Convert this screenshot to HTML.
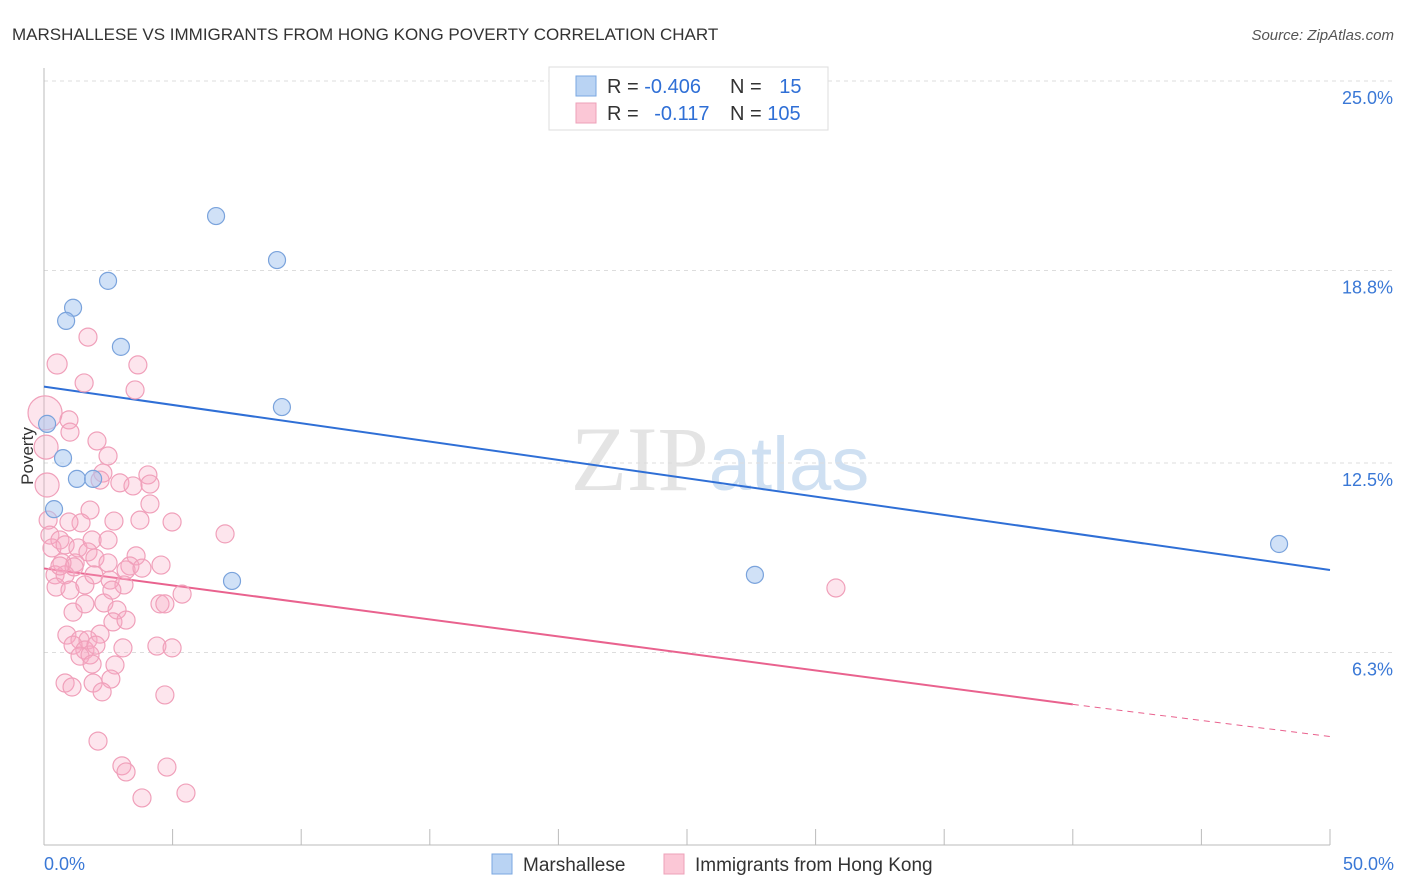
<!DOCTYPE html>
<html><head><meta charset="utf-8">
<style>
body{margin:0;background:#fff;font-family:"Liberation Sans",sans-serif;}
svg{display:block}
</style></head>
<body>
<svg id="chart" width="1406" height="892" xmlns="http://www.w3.org/2000/svg">
<text x="12" y="40" font-size="17" fill="#333">MARSHALLESE VS IMMIGRANTS FROM HONG KONG POVERTY CORRELATION CHART</text>
<text x="1394" y="40" font-size="15" fill="#555" text-anchor="end" font-style="italic">Source: ZipAtlas.com</text>
<text x="720" y="490" font-size="92" text-anchor="middle" fill="#e4e4e4" font-family="Liberation Serif, serif">ZIP<tspan fill="#cfe0f2" font-family="Liberation Sans, sans-serif" font-size="76">atlas</tspan></text>
<g id="grid"></g>
<g id="axes"></g>
<g id="lines"></g>
<g id="points"></g>
<text transform="translate(33,456) rotate(-90)" font-size="17" fill="#333" text-anchor="middle">Poverty</text>
<g>
<rect x="549" y="67" width="279" height="63" fill="#fff" stroke="#ddd"/>
<rect x="576" y="76" width="20" height="20" fill="#b9d3f3" stroke="#7aa7e0"/>
<rect x="576" y="103" width="20" height="20" fill="#fbc7d6" stroke="#eea0b8"/>
<text x="607" y="93" font-size="20" fill="#333">R = <tspan fill="#2f6fd6">-0.406</tspan></text>
<text x="730" y="93" font-size="20" fill="#333">N = <tspan fill="#2f6fd6" dx="12">15</tspan></text>
<text x="607" y="120" font-size="20" fill="#333">R = <tspan fill="#2f6fd6" dx="10">-0.117</tspan></text>
<text x="730" y="120" font-size="20" fill="#333">N = <tspan fill="#2f6fd6">105</tspan></text>
</g>
<g>
<rect x="492" y="854" width="20" height="20" fill="#b9d3f3" stroke="#7aa7e0"/>
<text x="523" y="871" font-size="19" fill="#333">Marshallese</text>
<rect x="664" y="854" width="20" height="20" fill="#fbc7d6" stroke="#eea0b8"/>
<text x="695" y="871" font-size="19" fill="#333">Immigrants from Hong Kong</text>
</g>
</svg>
<script>
const yTicks=[25,18.8,12.5,6.3];
const yTickLabels=["25.0%","18.8%","12.5%","6.3%"];
const xTickLabels=["0.0%","50.0%"];
const blueX=[6.69,9.06,2.49,1.13,0.86,2.99,9.25,0.12,0.74,1.28,1.91,0.39,7.31,27.64,48.02];
const blueY=[20.58,19.14,18.46,17.58,17.15,16.30,14.33,13.78,12.66,11.98,11.98,10.99,8.64,8.84,9.85];
const pinkX=[0.51,1.71,1.56,3.65,3.54,0.97,1.01,2.06,2.49,2.29,2.95,2.18,4.04,3.46,4.12,4.12,4.98,7.04,2.72,1.79,1.44,0.97,0.16,0.23,0.62,0.31,0.82,1.32,1.87,2.49,1.71,1.21,1.98,0.70,0.43,0.82,0.47,1.01,2.49,3.58,3.34,3.19,4.55,2.57,3.11,1.59,1.13,1.59,2.33,2.84,2.68,3.19,4.51,4.70,5.37,0.89,1.40,1.71,2.18,1.13,1.59,1.40,1.79,2.02,3.07,2.76,4.39,4.98,0.82,1.09,1.91,2.60,2.26,4.70,2.10,3.03,3.19,3.81,4.78,5.52,30.79,0.04,0.08,0.12,1.17,0.62,2.64,3.73,1.87,1.94,3.81];
const pinkY=[15.74,16.62,15.12,15.71,14.89,13.91,13.51,13.22,12.73,12.17,11.85,11.94,12.11,11.75,11.81,11.16,10.57,10.18,10.60,10.96,10.54,10.57,10.63,10.14,9.98,9.72,9.82,9.72,9.98,9.98,9.59,9.23,9.39,9.23,8.84,8.84,8.44,8.34,9.23,9.46,9.13,9.00,9.16,8.67,8.51,8.51,7.62,7.89,7.92,7.69,7.30,7.36,7.89,7.89,8.21,6.87,6.71,6.71,6.90,6.54,6.38,6.18,6.22,6.54,6.45,5.89,6.51,6.45,5.30,5.17,5.30,5.43,5.01,4.91,3.40,2.59,2.39,1.54,2.55,1.70,8.41,14.14,13.02,11.78,9.10,9.13,8.34,10.63,5.92,8.84,9.06];
const blueTrend=[[0,15.0],[50,9.0]];
const pinkTrend=[[0,9.05],[40,4.6]];
const pinkTrendExt=[[40,4.6],[50,3.55]];
const NS="http://www.w3.org/2000/svg";
const X=v=>44+v*25.72, Y=v=>845-v*30.56;
function mk(t,a,p){const e=document.createElementNS(NS,t);for(const k in a)e.setAttribute(k,a[k]);p.appendChild(e);return e;}
const grid=document.getElementById('grid'),axes=document.getElementById('axes');
yTicks.forEach((t,i)=>{
 const l=mk('line',{x1:44,x2:1394,y1:Y(t),y2:Y(t),stroke:'#ddd','stroke-dasharray':'4,4'},grid);
 
 
 const tx=mk('text',{x:1393,y:Y(t)+23,'font-size':18,fill:'#3a78d6','text-anchor':'end'},axes);
 tx.textContent=yTickLabels[i];
 
 
});
mk('line',{x1:44,x2:44,y1:68,y2:845,stroke:'#bbb'},axes);
mk('line',{x1:44,x2:1330,y1:845,y2:845,stroke:'#bbb'},axes);
for(let i=0;i<=10;i++){mk('line',{x1:X(i*5),x2:X(i*5),y1:829,y2:845,stroke:'#bbb'},axes);}
[[0,'start',44],[1,'end',1394]].forEach(([i,a,x])=>{const t=mk('text',{x:x,y:870,'font-size':18,fill:'#3a78d6','text-anchor':a},axes);t.textContent=xTickLabels[i];

});
const pts=document.getElementById('points');
pinkX.forEach((v,i)=>{
 let r=9; if(i===0)r=10; if(i===81)r=17; if(i===82||i===83)r=12;
 const c=mk('circle',{cx:X(v),cy:Y(pinkY[i]),r:r,fill:'rgba(248,170,195,0.3)',stroke:'#f0a0ba','stroke-width':1.2},pts);
 
 
});
blueX.forEach((v,i)=>{
 const c=mk('circle',{cx:X(v),cy:Y(blueY[i]),r:8.5,fill:'rgba(170,200,240,0.55)',stroke:'#7aa3dc','stroke-width':1.2},pts);
 
 
});
const ln=document.getElementById('lines');
function seg(p,col,dash,name){const l=mk('line',{x1:X(p[0][0]),y1:Y(p[0][1]),x2:X(p[1][0]),y2:Y(p[1][1]),stroke:col,'stroke-width':dash?1:2},ln);if(dash)l.setAttribute('stroke-dasharray','6,5');

}
seg(blueTrend,'#2f6fd6',false,'marshallese-trend-line');
seg(pinkTrend,'#e9628e',false,'hong-kong-trend-line');
seg(pinkTrendExt,'#e9628e',true,'hong-kong-trend-extension');
</script>
</body></html>
